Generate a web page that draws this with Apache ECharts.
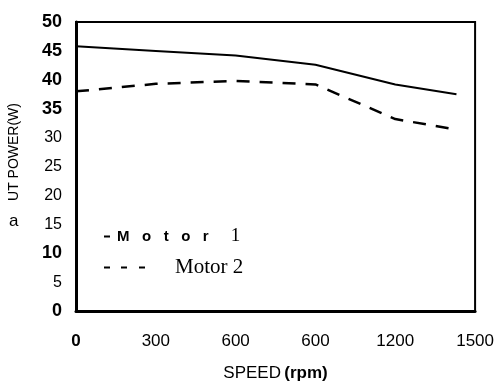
<!DOCTYPE html>
<html>
<head>
<meta charset="utf-8">
<script src="https://cdn.jsdelivr.net/npm/echarts@6/dist/echarts.min.js"></script>
<style>
  html, body { margin: 0; padding: 0; background: #fff; }
  #chart { width: 497px; height: 392px; }
</style>
</head>
<body>
<div id="chart"></div>
<script>
// speed (rpm) at each measured point
const speeds = [0, 300, 600, 900, 1200, 1430]
const motor1 = [45.8, 45.0, 44.2, 42.6, 39.2, 37.5]
const motor2 = [38.0, 39.3, 39.8, 39.2, 33.2, 31.4]
// tick labels exactly as printed on the original
const xTickLabels = ['0', '300', '600', '600', '1200', '1500']
const boldY = [50, 45, 40, 35, 10, 0]

const chart = echarts.init(document.getElementById('chart'))

const option = {
  animation: false,
  backgroundColor: '#fff',
  textStyle: { fontFamily: 'Liberation Sans, Arial, sans-serif', color: '#000' },
  grid: {
    left: 76, right: 21, top: 22, bottom: 81,
    show: true, borderColor: '#000', borderWidth: 2
  },
  xAxis: {
    type: 'value',
    min: 0, max: 1500, interval: 300,
    name: '{n|SPEED} {b|(rpm)}',
    nameLocation: 'middle',
    nameGap: 54,
    nameTextStyle: {
      rich: {
        n: { fontSize: 17, color: '#000', fontFamily: 'Liberation Sans' },
        b: { fontSize: 17, fontWeight: 'bold', color: '#000', fontFamily: 'Liberation Sans' }
      }
    },
    splitLine: { show: false },
    axisTick: { show: false },
    axisLine: { show: true, lineStyle: { color: '#000', width: 3 } },
    axisLabel: {
      margin: 22,
      formatter: (v) => {
        const s = xTickLabels[Math.round(v / 300)]
        return v === 0 ? '{b|' + s + '}' : '{n|' + s + '}'
      },
      rich: {
        n: { fontSize: 17, color: '#000' },
        b: { fontSize: 17, fontWeight: 'bold', color: '#000' }
      }
    }
  },
  yAxis: {
    type: 'value',
    min: 0, max: 50, interval: 5,
    splitLine: { show: false },
    axisTick: { show: false },
    axisLine: { show: true, lineStyle: { color: '#000', width: 3 } },
    axisLabel: {
      margin: 14,
      formatter: (v) => boldY.includes(v) ? '{b|' + v + '}' : '{n|' + v + '}',
      rich: {
        n: { fontSize: 16, color: '#000' },
        b: { fontSize: 18, fontWeight: 'bold', color: '#000' }
      }
    }
  },
  legend: [
    {
      data: ['Motor 1'],
      left: 99, top: 222,
      icon: 'rect',
      itemWidth: 6, itemHeight: 2,
      itemGap: 0,
      formatter: () => '{b|M   o   t   o   r}{s|1}',
      textStyle: {
        rich: {
          b: { fontSize: 15, fontWeight: 'bold', color: '#000', fontFamily: 'Liberation Sans', padding: [0, 0, 0, 2] },
          s: { fontSize: 19, color: '#000', fontFamily: 'Liberation Serif', padding: [0, 0, 0, 22] }
        }
      }
    },
    {
      data: ['Motor 2'],
      left: 99, top: 252,
      icon: 'path://M0,0h6v2h-6z M17,0h6v2h-6z M35,0h6v2h-6z',
      itemWidth: 41, itemHeight: 2,
      formatter: () => '{s|Motor 2}',
      textStyle: {
        rich: {
          s: { fontSize: 21, color: '#000', fontFamily: 'Liberation Serif', padding: [0, 0, 0, 25] }
        }
      }
    }
  ],
  graphic: [
    {
      type: 'text', left: 7, top: 103, rotation: Math.PI / 2,
      style: { text: 'UT POWER(W)', fontSize: 14, fill: '#000', fontFamily: 'Liberation Sans' }
    },
    {
      type: 'text', left: 9, top: 213,
      style: { text: 'a', fontSize: 17, fill: '#000', fontFamily: 'Liberation Sans' }
    }
  ],
  series: [
    {
      name: 'Motor 1',
      type: 'line',
      data: speeds.map((s, i) => [s, motor1[i]]),
      symbol: 'none',
      lineStyle: { color: '#000', width: 2 },
      itemStyle: { color: '#000' }
    },
    {
      name: 'Motor 2',
      type: 'line',
      data: speeds.map((s, i) => [s, motor2[i]]),
      symbol: 'none',
      lineStyle: { color: '#000', width: 2.5, type: [13, 10] },
      itemStyle: { color: '#000' }
    }
  ]
}

chart.setOption(option)
</script>
</body>
</html>
